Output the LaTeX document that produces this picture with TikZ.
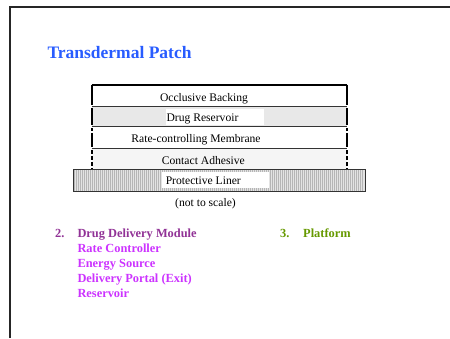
\documentclass[tikz,border=0pt]{standalone}
\usepackage{fontspec}
\setmainfont{Liberation Serif}[BoldFont={Liberation Serif Bold}]
\definecolor{titleblue}{RGB}{40,92,255}
\definecolor{darkpurple}{RGB}{145,50,150}
\definecolor{brightmag}{RGB}{204,51,255}
\definecolor{olivegreen}{RGB}{102,153,0}
\begin{document}
\begin{tikzpicture}[x=1pt,y=-1pt,
  layertext/.style={font=\fontsize{11.6}{13}\selectfont, inner sep=0pt, anchor=base},
  whitebox/.style={fill=white, inner sep=0pt, minimum width=98pt, minimum height=16pt},
  sideline/.style={line width=2pt, black},
  sepline/.style={line width=0.9pt, black!80},
  listitem/.style={font=\bfseries\fontsize{12.4}{15}\selectfont, anchor=base west, inner sep=0pt},
  titletext/.style={font=\bfseries\fontsize{17.5}{20}\selectfont, text=titleblue, anchor=base west, inner sep=0pt}]
\useasboundingbox (0,0) rectangle (450,338);
% frame
\draw[line width=2.4pt, black!85] (9.7,338) -- (9.7,6.7) -- (450,6.7);
% title
\node[titletext] (title) at (47.3,58.7) {Transdermal Patch};
% layer fills
\fill[gray!18] (91.7,106.7) rectangle (347,126.7);
\fill[gray!8] (91.7,148.3) rectangle (347,169.3);
\fill[gray!22] (73.3,169.3) rectangle (365,191);
\foreach \x in {74.5,76.5,...,364}
  \draw[gray!58, line width=0.8pt] (\x,169.8) -- (\x,190.5);
\draw[sepline] (73.3,169.3) rectangle (365,191);
% separators
\draw[line width=1.3pt, black] (91.7,85) -- (347,85);
\draw[sepline] (91.7,106.7) -- (347,106.7);
\draw[sepline] (91.7,126.7) -- (347,126.7);
\draw[sepline] (91.7,148.3) -- (347,148.3);
% sides
\foreach \x in {91.7,347} {
  \draw[sideline] (\x,84.5) -- (\x,105.2);
  \draw[sideline] (\x,108.2) -- (\x,125.2);
  \draw[sideline, dash pattern=on 3pt off 2pt] (\x,128.2) -- (\x,134);
  \draw[sideline] (\x,134) -- (\x,146.8);
  \draw[sideline, dash pattern=on 4pt off 2pt] (\x,150) -- (\x,169.3);
}
% white text boxes
\node[whitebox] (resbox) at (215,117) {};
\node[whitebox, minimum width=107pt] (linerbox) at (215.3,180.2) {};
% layer texts
\node[layertext] (backing) at (204,101.5) {Occlusive Backing};
\node[layertext] (reservoir) at (202.5,121.7) {Drug Reservoir};
\node[layertext] (membrane) at (196,142.8) {Rate-controlling Membrane};
\node[layertext] (adhesive) at (203.3,164) {Contact Adhesive};
\node[layertext] (liner) at (203.3,184.3) {Protective Liner};
\node[layertext] (scale) at (205.5,206.7) {(not to scale)};
% lists
\node[listitem, text=darkpurple] (n2) at (55,237) {2.};
\node[listitem, text=darkpurple] (ddm) at (77.3,237) {Drug Delivery Module};
\node[listitem, text=brightmag] (rc) at (77.3,252) {Rate Controller};
\node[listitem, text=brightmag] (es) at (77.3,267) {Energy Source};
\node[listitem, text=brightmag] (dp) at (77.3,282) {Delivery Portal (Exit)};
\node[listitem, text=brightmag] (res) at (77.3,297) {Reservoir};
\node[listitem, text=olivegreen] (n3) at (280,237) {3.};
\node[listitem, text=olivegreen] (plat) at (303,237) {Platform};
\end{tikzpicture}
\end{document}
